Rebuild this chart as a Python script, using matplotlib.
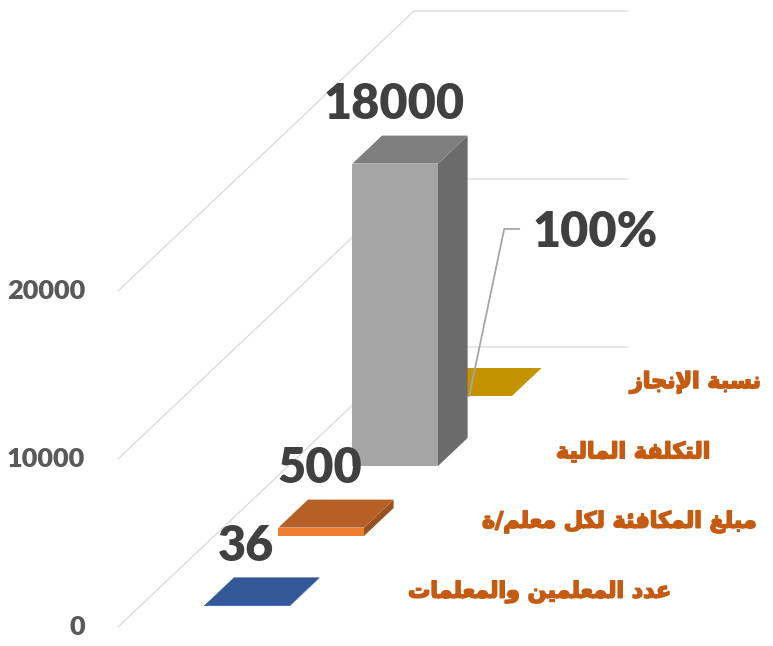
import matplotlib
matplotlib.use("Agg")
import matplotlib.pyplot as plt
import matplotlib.patheffects as pe
from matplotlib.patches import Polygon

# datos del grafico
series = ['عدد المعلمين والمعلمات', 'مبلغ المكافئة لكل معلم/ة', 'التكلفة المالية', 'نسبة الإنجاز']
values = [36, 500, 18000, 1]
value_labels = ['36', '500', '18000', '100%']
yticks = [0, 10000, 20000]
ytick_labels = ['0', '10000', '20000']

colors = ['#4472C4', '#ED7D31', '#A5A5A5', '#FFC000']

# geometria de la vista oblicua (x en pixeles, y en unidades del eje)
U = 10000 / 168.0          # unidades de valor por pixel
X0 = 118                   # esquina frontal izquierda del suelo
DX = 74                    # desplazamiento x por serie (profundidad)
DY = 70 * U                # desplazamiento y por serie
FLOOR_W = 214
BAR_W = 0.4 * FLOOR_W
GAP = 0.3 * FLOOR_W
NUM_FONT = ['Lato', 'DejaVu Sans']

# formas de presentacion arabes: (aislada, final, inicial, media)
FORMS = {
    'ا': ('\uFE8D', '\uFE8E', None, None),
    'إ': ('\uFE87', '\uFE88', None, None),
    'ب': ('\uFE8F', '\uFE90', '\uFE91', '\uFE92'),
    'ة': ('\uFE93', '\uFE94', None, None),
    'ت': ('\uFE95', '\uFE96', '\uFE97', '\uFE98'),
    'ج': ('\uFE9D', '\uFE9E', '\uFE9F', '\uFEA0'),
    'د': ('\uFEA9', '\uFEAA', None, None),
    'ز': ('\uFEAF', '\uFEB0', None, None),
    'س': ('\uFEB1', '\uFEB2', '\uFEB3', '\uFEB4'),
    'ع': ('\uFEC9', '\uFECA', '\uFECB', '\uFECC'),
    'غ': ('\uFECD', '\uFECE', '\uFECF', '\uFED0'),
    'ف': ('\uFED1', '\uFED2', '\uFED3', '\uFED4'),
    'ك': ('\uFED9', '\uFEDA', '\uFEDB', '\uFEDC'),
    'ل': ('\uFEDD', '\uFEDE', '\uFEDF', '\uFEE0'),
    'م': ('\uFEE1', '\uFEE2', '\uFEE3', '\uFEE4'),
    'ن': ('\uFEE5', '\uFEE6', '\uFEE7', '\uFEE8'),
    'و': ('\uFEED', '\uFEEE', None, None),
    'ي': ('\uFEF1', '\uFEF2', '\uFEF3', '\uFEF4'),
    'ئ': ('\uFE89', '\uFE8A', '\uFE8B', '\uFE8C'),
}
LAM_ALEF = {'ا': ('\uFEFB', '\uFEFC'), 'إ': ('\uFEF9', '\uFEFA')}


def joins_next(c):
    return c in FORMS and FORMS[c][2] is not None


def shape(txt):
    res = []
    i = 0
    while i < len(txt):
        c = txt[i]
        if c not in FORMS:
            res.append(c)
            i += 1
            continue
        conn_prev = i > 0 and joins_next(txt[i - 1])
        if c == 'ل' and i + 1 < len(txt) and txt[i + 1] in LAM_ALEF:
            iso, fin = LAM_ALEF[txt[i + 1]]
            res.append(fin if conn_prev else iso)
            i += 2
            continue
        nxt = txt[i + 1] if i + 1 < len(txt) else None
        conn_next = joins_next(c) and nxt in FORMS
        iso, fin, ini, med = FORMS[c]
        if conn_prev and conn_next:
            res.append(med)
        elif conn_prev:
            res.append(fin)
        elif conn_next:
            res.append(ini)
        else:
            res.append(iso)
        i += 1
    return ''.join(reversed(res))


def shade(hexcol, f):
    r, g, b = matplotlib.colors.to_rgb(hexcol)
    return (r * f, g * f, b * f)


fig = plt.figure(figsize=(7.73, 6.46), dpi=100)
ax = fig.add_axes([0, 0, 1, 1])
ax.set_xlim(0, 773)
ax.set_ylim(-19 * U, 627 * U)
ax.axis('off')

n = len(series)

# lineas de cuadricula: pared lateral y pared del fondo
for t, lab in zip(yticks, ytick_labels):
    xs = [X0, X0 + n * DX, X0 + n * DX + FLOOR_W]
    ys = [t, t + n * DY, t + n * DY]
    ax.plot(xs, ys, color='#D9D9D9', lw=0.9, zorder=1)
    ax.text(X0 - 33, t, lab, ha='right', va='center', fontsize=19.5,
            fontweight='heavy', color='#595959', family=NUM_FONT)

# barras, de atras hacia adelante
for i in reversed(range(n)):
    v = values[i]
    d0 = i + 0.3
    ddx = 0.4 * DX
    ddy = 0.4 * DY
    xl = X0 + d0 * DX + GAP
    y0 = d0 * DY
    xr = xl + BAR_W
    z = 10 + (n - i)
    front = [(xl, y0), (xr, y0), (xr, y0 + v), (xl, y0 + v)]
    top = [(xl, y0 + v), (xr, y0 + v), (xr + ddx, y0 + v + ddy), (xl + ddx, y0 + v + ddy)]
    side = [(xr, y0), (xr + ddx, y0 + ddy), (xr + ddx, y0 + ddy + v), (xr, y0 + v)]
    ax.add_patch(Polygon(side, closed=True, fc=shade(colors[i], 0.65), ec='none', zorder=z))
    ax.add_patch(Polygon(top, closed=True, fc=shade(colors[i], 0.77), ec='none', zorder=z))
    ax.add_patch(Polygon(front, closed=True, fc=colors[i], ec='none', zorder=z))

    cx = (xl + xr) / 2
    if i == n - 1:
        # etiqueta con linea guia
        bx, by = cx + 35, y0 + v + 167 * U
        ax.plot([cx, bx, bx + 15], [y0 + v, by, by], color='#A6A6A6', lw=1.3, zorder=20)
        ax.text(bx + 28, by - 4 * U, value_labels[i], ha='left', va='center', fontsize=35,
                fontweight='heavy', color='#404040', family=NUM_FONT, zorder=21)
    else:
        ax.annotate(value_labels[i], (cx - 1, y0 + v + ddy), xytext=(0, 12),
                    textcoords='offset points', ha='center', va='baseline', fontsize=35,
                    fontweight='heavy', color='#404040', family=NUM_FONT, zorder=21)

    # nombre de la serie sobre el eje de profundidad
    ax.text(X0 + (i + 0.5) * DX + FLOOR_W + 39, (i + 0.5) * DY, shape(series[i]),
            ha='left', va='center', fontsize=16, fontweight='bold', color='#C55A11',
            family=['DejaVu Sans'], zorder=21,
            path_effects=[pe.withStroke(linewidth=1.2, foreground='#C55A11')])

fig.savefig('out.png', dpi=100)
